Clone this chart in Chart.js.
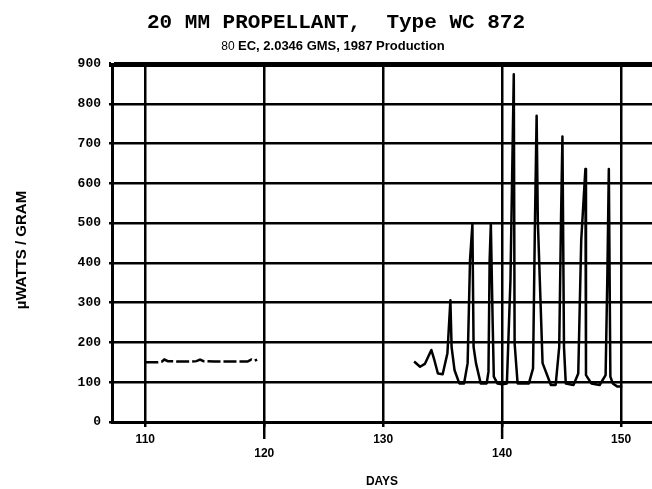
<!DOCTYPE html>
<html>
<head>
<meta charset="utf-8">
<script src="https://cdn.jsdelivr.net/npm/chart.js@4.4.0/dist/chart.umd.min.js"></script>
<style>body{margin:0;background:#fff}</style>
</head>
<body>
<canvas id="grafica" width="652" height="489"></canvas>
<script>
// datos
const diasA  = [110.0, 111.0, 111.4, 111.6, 111.9, 112.8, 113.8, 114.3, 114.6, 114.9, 115.8, 116.8, 117.8, 118.6, 118.9, 119.2, 119.4];
const wattsA = [150, 150, 152, 157, 153, 152, 152, 153, 157, 153, 152, 152, 152, 152, 157, 154, 157];

const diasB  = [132.6, 133.1, 133.5, 134.05, 134.3, 134.6, 135.0, 135.4, 135.65, 135.75, 136.0, 136.4, 136.8, 137.1, 137.3, 137.5, 137.6, 137.8, 138.2, 138.7,
                138.85, 138.95, 139.05, 139.2, 139.3, 139.6, 140.0, 140.4, 140.7, 140.98, 141.05, 141.3, 142.25, 142.6, 142.75, 142.9, 143.0, 143.4, 144.1, 144.5,
                144.8, 144.95, 145.07, 145.2, 145.35, 146.0, 146.4, 146.65, 147.0, 147.05, 147.5, 148.2, 148.7, 148.85, 148.97, 149.1, 149.3, 149.7, 150.1];
const wattsB = [152, 139, 146, 181, 156, 122, 120, 173, 306, 189, 130, 97, 97, 148, 407, 497, 189, 148, 97, 97,
                126, 407, 497, 256, 114, 97, 95, 97, 357, 874, 198, 97, 97, 135, 482, 770, 507, 148, 93, 93,
                189, 507, 718, 189, 97, 93, 122, 457, 636, 118, 97, 93, 118, 374, 636, 114, 97, 89, 89];

const ticksX = [110, 120, 130, 140, 150];
const titulo = '20 MM PROPELLANT,  Type WC 872';
const subNum = '80';
const subtitulo = 'EC, 2.0346 GMS, 1987 Production';
const tituloY = 'µWATTS / GRAM';
const tituloX = 'DAYS';

const textos = {
  id: 'textos',
  afterDraw(chart){
    const ctx = chart.ctx;
    const x = chart.scales.x;
    ctx.save();
    // marcas largas para etiquetas desplazadas
    ctx.strokeStyle = '#000';
    ctx.lineWidth = 2.5;
    [120, 140].forEach(v => {
      const px = x.getPixelForValue(v);
      ctx.beginPath(); ctx.moveTo(px, chart.chartArea.bottom); ctx.lineTo(px, chart.chartArea.bottom + 17); ctx.stroke();
    });
    ctx.fillStyle = '#000';
    ctx.textBaseline = 'alphabetic';
    ctx.textAlign = 'center';
    ctx.font = 'bold 21px "Liberation Mono"';
    ctx.fillText(titulo, 336, 28);
    // subtitulo con "80" normal
    ctx.font = 'bold 13px "Liberation Sans"';
    const w2 = ctx.measureText(subtitulo).width;
    ctx.font = '12px "Liberation Sans"';
    const w1 = ctx.measureText(subNum + ' ').width;
    const x0 = 333 - (w1 + w2) / 2;
    ctx.textAlign = 'left';
    ctx.fillText(subNum + ' ', x0, 50);
    ctx.font = 'bold 13px "Liberation Sans"';
    ctx.fillText(subtitulo, x0 + w1, 50);
    // titulo eje y
    ctx.translate(22, 250);
    ctx.rotate(-Math.PI / 2);
    ctx.textAlign = 'center';
    ctx.textBaseline = 'middle';
    ctx.font = 'bold 15px "Liberation Sans"';
    ctx.fillText(tituloY, 0, 0);
    ctx.restore();
  }
};

new Chart(document.getElementById('grafica'), {
  type: 'line',
  data: {
    datasets: [
      { data: diasA.map((d, i) => ({x: d, y: wattsA[i]})), borderColor: '#000', borderWidth: 2.5, borderDash: [13, 3], pointRadius: 0, tension: 0 },
      { data: diasB.map((d, i) => ({x: d, y: wattsB[i]})), borderColor: '#000', borderWidth: 2.5, borderJoinStyle: 'round', pointRadius: 0, tension: 0 }
    ]
  },
  options: {
    responsive: false,
    animation: false,
    layout: { padding: { top: 64, right: 0, left: 0, bottom: 0 } },
    plugins: { legend: { display: false }, tooltip: { enabled: false } },
    scales: {
      x: {
        type: 'linear', min: 107.2, max: 152.6,
        afterBuildTicks: s => { s.ticks = ticksX.map(v => ({value: v})); },
        afterFit: s => { s.height = 67; },
        grid: { color: '#000', lineWidth: 2.5, tickLength: 5 },
        border: { color: '#000', width: 3 },
        ticks: {
          color: '#000', padding: 5, maxRotation: 0, autoSkip: false,
          font: { family: 'Liberation Sans', size: 12, weight: 'bold' },
          callback: v => (v === 120 || v === 140) ? ['', String(v)] : String(v)
        },
        title: { display: true, text: tituloX, color: '#000', padding: { top: 10, bottom: 0 },
                 font: { family: 'Liberation Sans', size: 12, weight: 'bold' } }
      },
      y: {
        min: 0, max: 900,
        afterFit: s => { s.width = 112; },
        grid: { color: '#000', lineWidth: c => c.tick && c.tick.value === 900 ? 5 : 2.5, tickLength: 3 },
        border: { color: '#000', width: 3 },
        ticks: { stepSize: 100, color: '#000', padding: 8,
                 font: { family: 'Liberation Mono', size: 13, weight: 'bold' } }
      }
    }
  },
  plugins: [textos]
});
</script>
</body>
</html>
